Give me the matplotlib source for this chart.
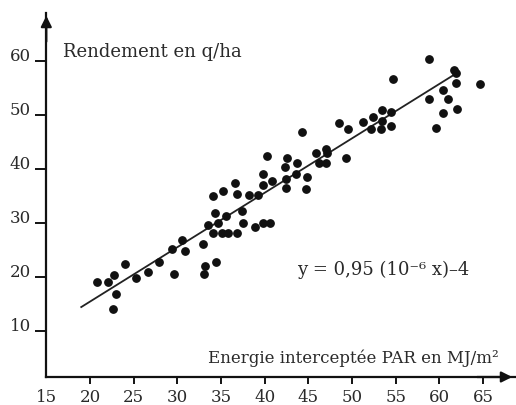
import matplotlib.pyplot as plt

# energie interceptee (MJ/m2) et rendement (q/ha)
energy = [20.8, 22.1, 22.7, 23.0, 22.6, 24.0, 25.3, 26.6, 27.9, 29.6,
          29.4, 30.5, 30.9, 32.9, 33.2, 33.1, 34.4, 33.5, 34.3, 34.7,
          35.6, 34.1, 35.1, 35.8, 36.8, 37.4, 37.5, 38.9, 39.8, 40.6,
          34.1, 35.2, 36.6, 36.8, 38.2, 39.2, 39.8, 39.8, 40.8, 40.3,
          42.6, 43.7, 42.3, 42.4, 43.6, 44.8, 42.4, 44.7, 44.3, 45.9,
          47.0, 47.1, 46.2, 47.0, 49.3, 48.5, 49.5, 51.3, 52.4, 53.4,
          54.5, 53.4, 52.2, 53.3, 54.5, 54.7, 58.8, 61.7, 61.9, 61.9,
          64.6, 60.4, 61.0, 58.8, 60.4, 62.0, 59.6]
rendement = [19.0, 19.0, 20.3, 16.8, 14.1, 22.4, 19.8, 20.9, 22.7, 20.5,
             25.2, 26.8, 24.8, 26.1, 22.0, 20.5, 22.7, 29.6, 31.8, 30.0,
             31.3, 28.1, 28.1, 28.1, 28.1, 32.2, 30.0, 29.2, 30.0, 30.0,
             35.0, 35.9, 37.4, 35.3, 35.2, 35.2, 39.0, 37.0, 37.7, 42.4,
             42.0, 41.1, 40.3, 38.1, 39.0, 38.5, 36.4, 36.3, 46.8, 42.9,
             43.7, 42.9, 41.1, 41.1, 42.0, 48.5, 47.4, 48.7, 49.6, 50.9,
             50.5, 48.8, 47.4, 47.4, 47.9, 56.6, 60.3, 58.3, 57.7, 55.9,
             55.7, 54.6, 52.9, 52.9, 50.3, 51.1, 47.6]

# droite de regression (extremites)
fit_x = [19.0, 62.0]
fit_y = [14.4, 57.7]

x_ticks = [15, 20, 25, 30, 35, 40, 45, 50, 55, 60, 65]
y_ticks = [10, 20, 30, 40, 50, 60]

serif = ['DejaVu Serif']
txt = '#2a2a2a'

fig = plt.figure(figsize=(5.16, 4.05), dpi=100)
ax = fig.add_axes([46.3 / 516, 1 - 377 / 405, (515 - 46.3) / 516, (377 - 13) / 405])
ax.set_xlim(15, 68.65)
ax.set_ylim(1.46, 68.8)

ax.scatter(energy, rendement, s=28, color='#111111', zorder=3)
ax.plot(fit_x, fit_y, color='#222222', lw=1.3, zorder=2)

for side in ['top', 'right']:
    ax.spines[side].set_visible(False)
for side in ['left', 'bottom']:
    ax.spines[side].set_linewidth(1.6)
    ax.spines[side].set_color('#111111')

# fleches au bout des axes
ax.annotate('', xy=(15, 68.8), xytext=(15, 63), xycoords='data',
            arrowprops=dict(arrowstyle='-|>', color='#111111', lw=1.6,
                            mutation_scale=16), annotation_clip=False)
ax.annotate('', xy=(68.65, 1.46), xytext=(64, 1.46), xycoords='data',
            arrowprops=dict(arrowstyle='-|>', color='#111111', lw=1.6,
                            mutation_scale=16), annotation_clip=False)

ax.set_xticks(x_ticks)
ax.set_xticklabels([str(t) for t in x_ticks], family=serif, fontsize=12, color=txt)
ax.xaxis.get_major_ticks()[0].tick1line.set_visible(False)
ax.tick_params(axis='x', direction='out', length=5, width=1.3, pad=4)

ax.set_yticks(y_ticks)
ax.set_yticklabels([str(t) for t in y_ticks], family=serif, fontsize=12, color=txt)
ax.tick_params(axis='y', direction='out', length=8, width=1.3, pad=3)
for lab in ax.get_yticklabels():
    lab.set_va('baseline')

fig.text(63 / 516, 1 - 52 / 405, 'Rendement en q/ha', family=serif,
         fontsize=13, color=txt, va='center', ha='left')
fig.text(208 / 516, 1 - 358 / 405, 'Energie interceptée PAR en MJ/m²',
         family=serif, fontsize=12, color=txt, va='center', ha='left')
fig.text(297 / 516, 1 - 270 / 405, 'y = 0,95 (10⁻⁶ x)–4', family=serif,
         fontsize=13, color=txt, va='center', ha='left')

fig.savefig('out.png', dpi=100)
